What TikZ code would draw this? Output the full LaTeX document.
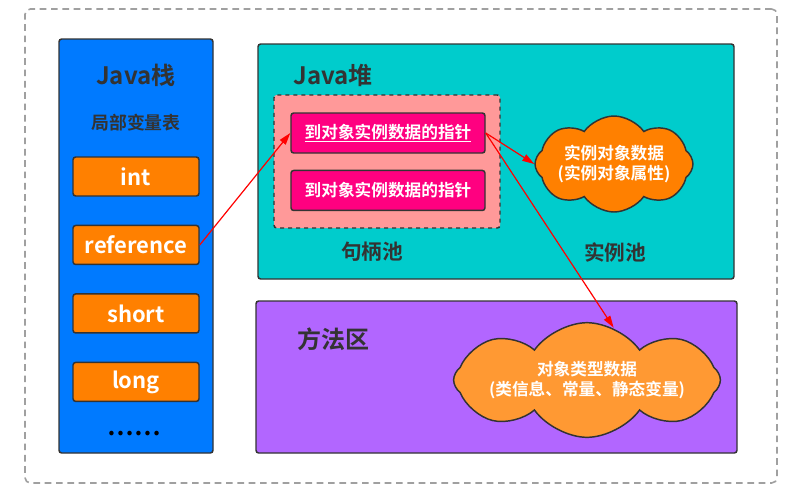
\documentclass[tikz,border=0pt]{standalone}
\usepackage{fontspec}
\setmainfont{Noto Sans CJK SC}[BoldFont={Noto Sans CJK SC Bold}]
\usetikzlibrary{shapes.symbols, positioning, arrows.meta}

\definecolor{stackblue}{RGB}{0,122,255}
\definecolor{heapteal}{RGB}{0,204,204}
\definecolor{poolpink}{RGB}{255,153,153}
\definecolor{ptrmagenta}{RGB}{255,0,128}
\definecolor{slotorange}{RGB}{255,128,0}
\definecolor{typeorange}{RGB}{255,153,51}
\definecolor{methodpurple}{RGB}{178,102,255}
\definecolor{edge}{RGB}{51,51,51}
\definecolor{outergray}{RGB}{160,160,160}

\begin{document}
\begin{tikzpicture}[
    x=0.75pt, y=-0.75pt,
    font=\bfseries,
    area/.style={rectangle, draw=edge, line width=1.1pt, rounded corners=2pt, inner sep=0pt},
    slot/.style={rectangle, draw=edge, line width=1.1pt, rounded corners=2pt, fill=slotorange,
        text=white, font=\bfseries\fontsize{16.5}{19}\selectfont, minimum width=94.5pt, minimum height=29.25pt},
    pointer/.style={rectangle, draw=edge, line width=1.1pt, rounded corners=2pt, fill=ptrmagenta,
        text=white, font=\bfseries\fontsize{12.5}{14}\selectfont, minimum width=145.5pt, minimum height=30pt},
    data/.style={cloud, cloud puffs=8, cloud puff arc=110, cloud ignores aspect, draw=edge, inner sep=0pt,
        line width=1.1pt, text=white, align=center, font=\bfseries\fontsize{12.5}{15.5}\selectfont},
    title/.style={text=edge, font=\bfseries\fontsize{18}{22}\selectfont},
    caption/.style={text=edge, font=\bfseries\fontsize{15.5}{18}\selectfont},
    arrow/.style={-{Triangle[length=9pt, width=5.5pt]}, red, line width=0.9pt},
]
\useasboundingbox (0,0) rectangle (799,501);

%% NODES
    % frame
    \node[rectangle, draw=outergray, line width=1.2pt, dash pattern=on 5pt off 3.5pt, rounded corners=4pt,
        minimum width=564pt, minimum height=355.5pt] (frame) at (401,246) {};

    % java stack
    \node[area, fill=stackblue, minimum width=115.5pt, minimum height=310.5pt] (stack) at (136,246) {};
    \node[title] (stack_title) at (136,75) {Java栈};
    \node[caption, font=\bfseries\fontsize{13.4}{16}\selectfont] (locals) at (136,123) {局部变量表};

    \node[slot] (int) at (136,176.5) {int};
    \node[slot, below=21pt of int] (reference) {reference};
    \node[slot, below=21pt of reference] (short) {short};
    \node[slot, below=21pt of short] (long) {long};
    \node[text=black, font=\bfseries\fontsize{18}{20}\selectfont] (more) at (134,434) {……};

    % java heap
    \node[area, fill=heapteal, minimum width=357pt, minimum height=176.25pt] (heap) at (496,161.5) {};
    \node[title] (heap_title) at (333,75) {Java堆};

    % handle pool
    \node[area, fill=poolpink, dashed, minimum width=169.5pt, minimum height=99.75pt] (pool) at (387,161.5) {};
    \node[pointer] (ptr_a) at (388,133) {\underline{到对象实例数据的指针}};
    \node[pointer, below=12pt of ptr_a] (ptr_b) {到对象实例数据的指针};
    \node[caption] (pool_label) at (372,252) {句柄池};

    % instance pool
    \node[data, fill=slotorange, minimum width=118pt, minimum height=72pt] (instance) at (614,164)
        {实例对象数据\\(实例对象属性)};
    \node[caption] (instance_label) at (615,252) {实例池};

    % method area
    \node[area, fill=methodpurple, minimum width=360.75pt, minimum height=114pt] (method) at (496.5,377) {};
    \node[title] (method_title) at (333,339) {方法区};
    \node[data, fill=typeorange, minimum width=198pt, minimum height=86pt] (type) at (587,380)
        {对象类型数据\\(类信息、常量、静态变量)};

%% CONNECTIONS
    \draw[arrow] (reference.east) -- (ptr_a.west);
    \draw[arrow] (ptr_a.east) -- (instance.west);
    \draw[arrow] (ptr_a.east) -- (type.63);

\end{tikzpicture}
\end{document}
